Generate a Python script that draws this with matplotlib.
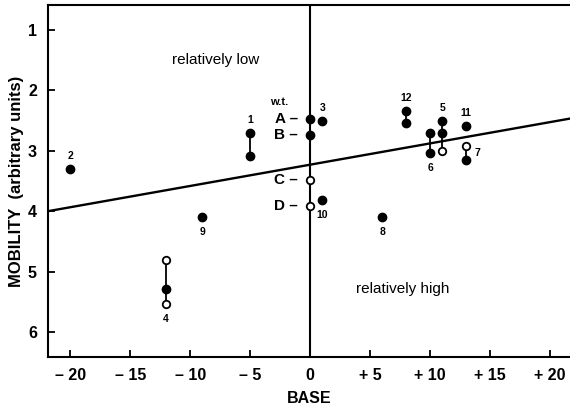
import matplotlib
matplotlib.use("Agg")
import matplotlib.pyplot as plt

plt.rcParams['font.family'] = ['Liberation Sans', 'DejaVu Sans']

# ---- data ----
x_ticks = [-20, -15, -10, -5, 0, 5, 10, 15, 20]
x_ticklabels = ['– 20', '– 15', '– 10', '– 5', '0', '+ 5', '+ 10', '+ 15', '+ 20']
y_ticks = [1, 2, 3, 4, 5, 6]

# wild type bands at base 0
wt_labels = ['A', 'B', 'C', 'D']
wt_mobility = [2.47, 2.74, 3.48, 3.91]
wt_filled = [True, True, False, False]

# mutants: label, base position, filled mobilities, open mobilities, label placement
mut_labels = ['2', '1', '9', '4', '3', '10', '8', '12', '6', '5', '11', '7']
mut_base = [-20, -5, -9, -12, 1, 1, 6, 8, 10, 11, 13, 13]
mut_filled = [[3.30], [2.71, 3.09], [4.10], [5.29], [2.51], [3.81], [4.10],
              [2.34, 2.54], [2.71, 3.03], [2.51, 2.71], [2.59], [3.15]]
mut_open = [[], [], [], [4.81, 5.54], [], [], [], [], [], [3.01], [], [2.92]]
mut_label_pos = ['above', 'above', 'below', 'below', 'above', 'below', 'below',
                 'above', 'below', 'above', 'above', 'right']

# regression line
reg_intercept = 3.23
reg_slope = -0.0352

fig = plt.figure(figsize=(5.70, 4.09), dpi=100)
ax = fig.add_axes([48 / 570, 52 / 409, 1 - 48 / 570, 352 / 409])
ax.set_xlim(-21.85, 21.65)
ax.set_ylim(6.41, 0.59)

ax.axvline(0, color='black', lw=1.5, zorder=1)
ax.axline((0, reg_intercept), slope=reg_slope, color='black', lw=1.7, zorder=1)

fs_dot = 6.0
fs_open = 5.4

def draw_group(x, filled, opened):
    allv = list(filled) + list(opened)
    if len(allv) > 1:
        ax.plot([x, x], [min(allv), max(allv)], color='black', lw=1.3, zorder=2)
    if filled:
        ax.plot([x] * len(filled), filled, 'o', color='black', ms=fs_dot, zorder=3)
    if opened:
        ax.plot([x] * len(opened), opened, 'o', mfc='white', mec='black', mew=1.3,
                ms=fs_open, zorder=4)

# wild type
draw_group(0, [m for m, f in zip(wt_mobility, wt_filled) if f],
           [m for m, f in zip(wt_mobility, wt_filled) if not f])
ax.plot([0, 0], [min(wt_mobility), max(wt_mobility)], color='black', lw=1.3, zorder=2)
for lab, m in zip(wt_labels, wt_mobility):
    ax.annotate(lab + ' –', (0, m), xytext=(-12, 0), textcoords='offset pixels',
                ha='right', va='center', fontsize=11, fontweight='bold')
ax.annotate('w.t.', (0, wt_mobility[0]), xytext=(-31, 17), textcoords='offset pixels',
            ha='center', va='center', fontsize=8, fontweight='bold')

for lab, x, fv, ov, pos in zip(mut_labels, mut_base, mut_filled, mut_open, mut_label_pos):
    draw_group(x, fv, ov)
    allv = fv + ov
    if pos == 'above':
        xy, off, ha = (x, min(allv)), (0, 13), 'center'
    elif pos == 'below':
        xy, off, ha = (x, max(allv)), (0, -15), 'center'
    else:
        xy, off, ha = (x, (min(allv) + max(allv)) / 2), (8, 0), 'left'
    ax.annotate(lab, xy, xytext=off, textcoords='offset pixels', ha=ha, va='center',
                fontsize=7.5, fontweight='bold')

ax.text(-7.9, 1.5, 'relatively low', ha='center', va='center', fontsize=11)
ax.text(7.7, 5.28, 'relatively high', ha='center', va='center', fontsize=11)

ax.set_xticks(x_ticks)
ax.set_xticklabels(x_ticklabels)
ax.set_yticks(y_ticks)
ax.tick_params(direction='in', length=5, width=1.3, labelsize=11.5, pad=8)
for t in ax.get_xticklabels() + ax.get_yticklabels():
    t.set_fontweight('bold')

for s in ['left', 'bottom', 'top']:
    ax.spines[s].set_linewidth(1.5)
ax.spines['right'].set_visible(False)

ax.set_xlabel('BASE', fontsize=11.5, fontweight='bold', labelpad=6)
ax.set_ylabel('MOBILITY  (arbitrary units)', fontsize=12, fontweight='bold', labelpad=3)

fig.savefig('out.png', dpi=100)
